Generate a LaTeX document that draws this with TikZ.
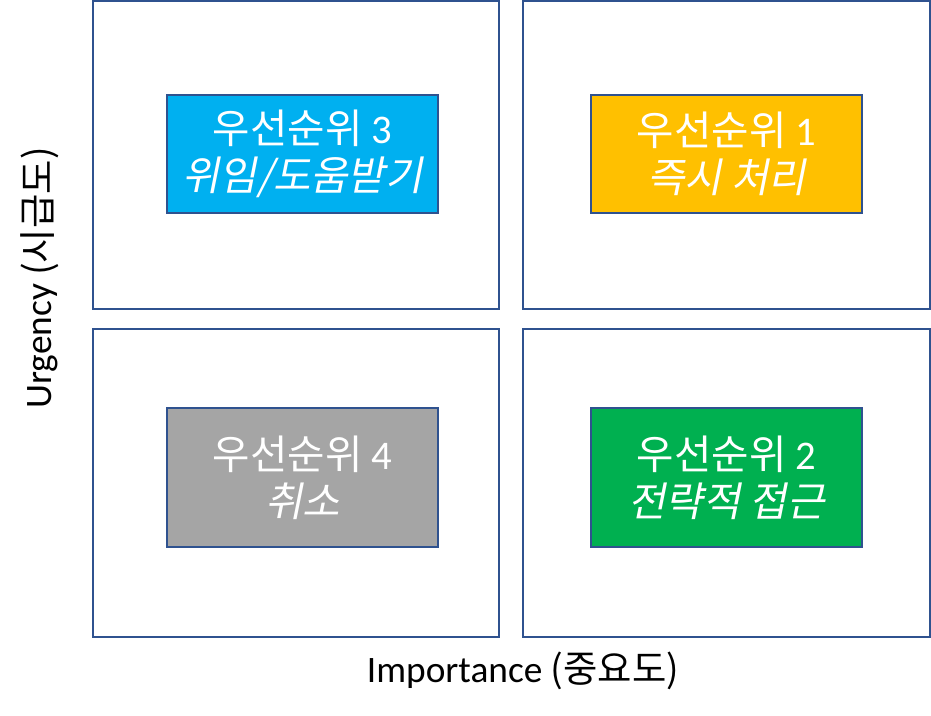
\documentclass[tikz,border=0pt]{standalone}
\usepackage{fontspec}
\setmainfont{Carlito}
\newfontfamily\kr{Noto Sans CJK KR}[AutoFakeSlant=0.2]
\definecolor{qborder}{HTML}{2F528F}
\definecolor{pblue}{HTML}{00B0F0}
\definecolor{pyellow}{HTML}{FFC000}
\definecolor{pgray}{HTML}{A5A5A5}
\definecolor{pgreen}{HTML}{00B050}
\begin{document}
\begin{tikzpicture}[x=0.75pt,y=-0.75pt,
  quad/.style={draw=qborder, line width=1.6pt, minimum width=305pt, minimum height=231pt, inner sep=0pt},
  prio/.style={draw=qborder, line width=1pt, text=white, align=center, minimum width=203.25pt, inner sep=0pt,
    font=\fontsize{30.5}{35}\selectfont},
  axis/.style={text=black, font=\fontsize{28}{32}\selectfont, inner sep=0pt}]
\useasboundingbox (0,0) rectangle (931,716);
\node[quad] (tl) at (296,155) {};
\node[quad] (tr) at (726.5,155) {};
\node[quad] (bl) at (296,483) {};
\node[quad] (br) at (726.5,483) {};
\node[prio, fill=pblue, minimum height=88.5pt] (p3) at (302.5,154) {{\kr 우선순위} 3\\{\kr\itshape 위임/도움받기}};
\node[prio, fill=pyellow, minimum height=88.5pt] (p1) at (726.5,154) {{\kr 우선순위} 1\\{\kr\itshape 즉시 처리}};
\node[prio, fill=pgray, minimum height=104.25pt] (p4) at (302.5,477.5) {{\kr 우선순위} 4\\{\kr\itshape 취소}};
\node[prio, fill=pgreen, minimum height=104.25pt] (p2) at (726.5,477.5) {{\kr 우선순위} 2\\{\kr\itshape 전략적 접근}};
\node[axis] (xl) at (523,671) {Importance {\kr (중요도)}};
\node[axis, rotate=90] (yl) at (40,278) {Urgency {\kr (시급도)}};
\end{tikzpicture}
\end{document}
